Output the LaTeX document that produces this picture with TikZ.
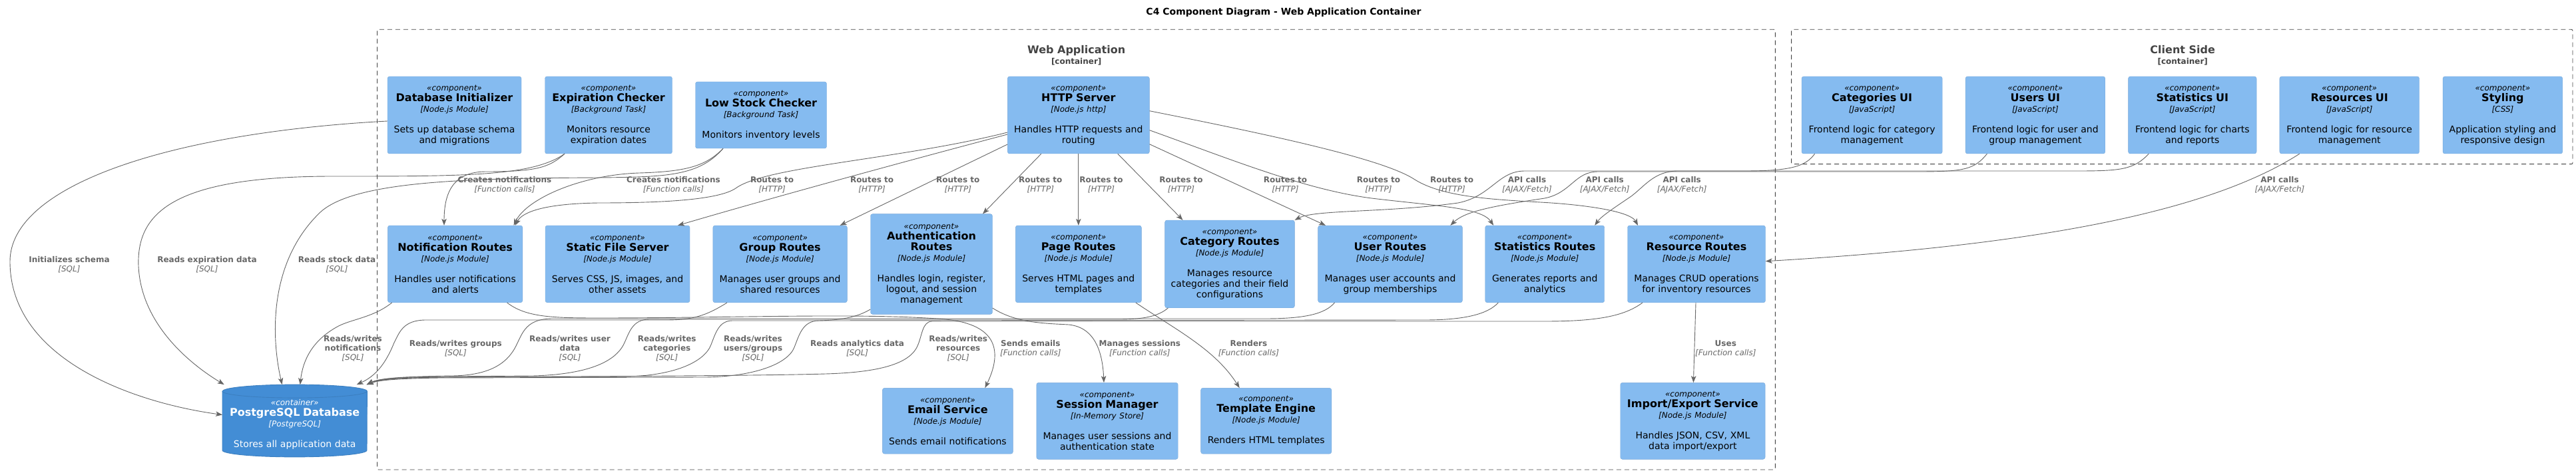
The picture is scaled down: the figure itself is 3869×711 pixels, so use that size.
\documentclass[tikz,border=0pt]{standalone}
\usepackage{fontspec}
\setmainfont{DejaVu Sans}
\usepackage{xcolor}
\usetikzlibrary{arrows.meta, positioning}

\definecolor{compfill}{HTML}{85BBF0}
\definecolor{compline}{HTML}{78A8D8}
\definecolor{dbfill}{HTML}{438DD5}
\definecolor{dbline}{HTML}{3C7FC0}
\definecolor{relgray}{HTML}{666666}
\definecolor{bndgray}{HTML}{444444}

\newcommand{\compbody}[3]{{\fontsize{12}{16}\selectfont\itshape «component»}\\{\fontsize{16}{16}\selectfont\bfseries #1}\\{\fontsize{12}{16}\selectfont\itshape [#2]}\\[15pt]#3}
\newcommand{\tech}[1]{{\mdseries\itshape [#1]}}

\tikzset{
  comp/.style={draw=compline, fill=compfill, rounded corners=3pt, align=center, inner sep=2pt, font=\fontsize{14}{16}\selectfont},
  rel/.style={draw=relgray, line width=0.9pt, -{Stealth[length=10pt,width=7.5pt,inset=2.5pt]}},
  rlbl/.style={text=relgray, align=center, font=\fontsize{12}{14}\selectfont\bfseries},
  bnd/.style={draw=bndgray, dash pattern=on 7pt off 5pt, line width=0.9pt, rounded corners=2pt},
  bndlbl/.style={text=bndgray, align=center, font=\fontsize{16}{16}\selectfont\bfseries},
  dbtxt/.style={text=white, align=center, text width=210pt, font=\fontsize{14}{16}\selectfont}
}

\begin{document}
\begin{tikzpicture}[x=1pt, y=-1pt]
      \useasboundingbox (0,0) rectangle (3869,711);

      \node[font=\fontsize{14}{16}\selectfont\bfseries] (title) at (1928,18.3) {C4 Component Diagram - Web Application Container};

      \draw[bnd] (566.5,44.3) rectangle (2666.4,706);
      \draw[bnd] (2690.6,44.3) rectangle (3864,246.7);
      \node[bndlbl] (webapp) at (1616.7,83) {Web Application\\{\fontsize{12}{14}\selectfont [container]}};
      \node[bndlbl] (client) at (3278.2,83) {Client Side\\{\fontsize{12}{14}\selectfont [container]}};

      \node[comp, text width=197pt, minimum height=116pt] (dbinit) at (682.5,173) {\compbody{Database Initializer}{Node.js Module}{Sets up database schema\\and migrations}};
      \node[comp, text width=187pt, minimum height=116pt] (expchk) at (914,173) {\compbody{Expiration Checker}{Background Task}{Monitors resource\\expiration dates}};
      \node[comp, text width=193pt, minimum height=100pt] (lowstk) at (1143,173) {\compbody{Low Stock Checker}{Background Task}{Monitors inventory levels}};
      \node[comp, text width=209pt, minimum height=116pt] (http) at (1619.8,173) {\compbody{HTTP Server}{Node.js http}{Handles HTTP requests and\\routing}};

      \node[comp, text width=207.2pt, minimum height=116pt] (catui) at (2811.6,173) {\compbody{Categories UI}{JavaScript}{Frontend logic for category\\management}};
      \node[comp, text width=205.7pt, minimum height=116pt] (usrui) at (3056.9,173) {\compbody{Users UI}{JavaScript}{Frontend logic for user and\\group management}};
      \node[comp, text width=188.5pt, minimum height=116pt] (statui) at (3292.8,173) {\compbody{Statistics UI}{JavaScript}{Frontend logic for charts\\and reports}};
      \node[comp, text width=205.6pt, minimum height=116pt] (resui) at (3528.7,173) {\compbody{Resources UI}{JavaScript}{Frontend logic for resource\\management}};
      \node[comp, text width=175.7pt, minimum height=116pt] (styl) at (3758.9,173) {\compbody{Styling}{CSS}{Application styling and\\responsive design}};

      \node[comp, text width=198.4pt, minimum height=115.7pt] (notif) at (683.6,396.9) {\compbody{Notification Routes}{Node.js Module}{Handles user notifications\\and alerts}};
      \node[comp, text width=213pt, minimum height=115.7pt] (static) at (927.5,396.9) {\compbody{Static File Server}{Node.js Module}{Serves CSS, JS, images, and\\other assets}};
      \node[comp, text width=197.5pt, minimum height=115.7pt] (group) at (1171.6,396.9) {\compbody{Group Routes}{Node.js Module}{Manages user groups and\\shared resources}};
      \node[comp, text width=179pt, minimum height=150.6pt] (auth) at (1399,397) {\compbody{Authentication\\Routes}{Node.js Module}{Handles login, register,\\logout, and session\\management}};
      \node[comp, text width=185pt, minimum height=115.7pt] (page) at (1619.8,396.9) {\compbody{Page Routes}{Node.js Module}{Serves HTML pages and\\templates}};
      \node[comp, text width=190.7pt, minimum height=131.7pt] (cat) at (1847,396.9) {\compbody{Category Routes}{Node.js Module}{Manages resource\\categories and their field\\configurations}};
      \node[comp, text width=212.7pt, minimum height=115.7pt] (user) at (2088,396.9) {\compbody{User Routes}{Node.js Module}{Manages user accounts and\\group memberships}};
      \node[comp, text width=175pt, minimum height=115.7pt] (stats) at (2320.2,396.9) {\compbody{Statistics Routes}{Node.js Module}{Generates reports and\\analytics}};
      \node[comp, text width=203pt, minimum height=115.7pt] (res) at (2548,396.9) {\compbody{Resource Routes}{Node.js Module}{Manages CRUD operations\\for inventory resources}};

      \node[comp, text width=192pt, minimum height=98.7pt] (email) at (1423.4,632.7) {\compbody{Email Service}{Node.js Module}{Sends email notifications}};
      \node[comp, text width=208.4pt, minimum height=115pt] (sess) at (1663,632.8) {\compbody{Session Manager}{In-Memory Store}{Manages user sessions and\\authentication state}};
      \node[comp, text width=192.2pt, minimum height=98.7pt] (tmpl) at (1901.7,632.7) {\compbody{Template Engine}{Node.js Module}{Renders HTML templates}};
      \node[comp, text width=213.3pt, minimum height=115pt] (impexp) at (2542.4,632.8) {\compbody{Import/Export Service}{Node.js Module}{Handles JSON, CSV, XML\\data import/export}};

      \node[minimum width=217pt, minimum height=108.4pt, inner sep=0pt] (db) at (442.7,632.5) {};
      \fill[dbfill, draw=dbline, line width=0.9pt] ([yshift=-10pt]db.north west) -- ([yshift=10pt]db.south west) arc[start angle=180, end angle=360, x radius=108.5pt, y radius=10pt] -- ([yshift=-10pt]db.north east) arc[start angle=0, end angle=180, x radius=108.5pt, y radius=10pt] -- cycle;
      \draw[dbline, line width=0.9pt] ([yshift=-10pt]db.north west) arc[start angle=180, end angle=360, x radius=108.5pt, y radius=10pt];
      \node[dbtxt] (dbtext) at (442.7,638) {{\fontsize{12}{16}\selectfont\itshape «container»}\\{\fontsize{16}{16}\selectfont\bfseries PostgreSQL Database}\\{\fontsize{12}{16}\selectfont\itshape [PostgreSQL]}\\[15pt]Stores all application data};

      \draw[rel] ([yshift=-9pt]dbinit.west) .. controls (250,200) and (15,280) .. (15,393) .. controls (15,540) and (200,605) .. ([yshift=9pt]db.west);
      \draw[rel] ([xshift=-66pt]expchk.south) .. controls (825,252) and (805,258) .. (730,258) .. controls (680,258) and (667,290) .. ([xshift=-16.6pt]notif.north);
      \draw[rel] ([xshift=-66pt]expchk.south) .. controls (800,265) and (700,265) .. (500,265) .. controls (260,265) and (205,320) .. (208,400) .. controls (212,490) and (290,550) .. ([xshift=-106pt]db.north);
      \draw[rel] ([xshift=-57pt]lowstk.south) .. controls (1060,250) and (1030,258) .. (960,260) .. controls (870,263) and (790,300) .. ([xshift=88pt]notif.north);
      \draw[rel] ([xshift=-57pt]lowstk.south) .. controls (1050,265) and (1000,266) .. (900,267) .. controls (700,268) and (530,272) .. (480,320) .. controls (398,400) and (410,520) .. ([xshift=-19pt]db.north);

      \draw[rel] ([yshift=-26pt]http.west) .. controls (1350,240) and (1150,250) .. (1105,283) .. controls (1080,300) and (1000,305) .. (900,305) .. controls (820,306) and (785,318) .. ([xshift=90pt]notif.north);
      \draw[rel] ([yshift=-29pt]http.west) .. controls (1350,245) and (1150,300) .. ([xshift=90.5pt]static.north);
      \draw[rel] ([yshift=-44pt]http.west) -- ([xshift=90pt]group.north);
      \draw[rel] ([xshift=-56pt]http.south) -- ([xshift=77pt]auth.north);
      \draw[rel] (http.south) -- (page.north);
      \draw[rel] ([xshift=59pt]http.south) -- ([xshift=-70.5pt]cat.north);
      \draw[rel] ([yshift=-43.7pt]http.east) -- ([xshift=-97pt]user.north);
      \draw[rel] ([yshift=-22.7pt]http.east) .. controls (1850,240) and (1960,285) .. (2060,298) .. controls (2160,310) and (2225,312) .. ([xshift=-77pt]stats.north);
      \draw[rel] ([yshift=6.3pt]http.east) .. controls (1920,205) and (2080,240) .. (2125,270) .. controls (2170,298) and (2250,300) .. (2330,305) .. controls (2400,310) and (2450,320) .. ([xshift=-88pt]res.north);

      \draw[rel] ([xshift=-86pt]catui.south) .. controls (2712,250) and (2690,257) .. (2620,257) -- (2290,257) .. controls (2250,257) and (2240,295) .. (2190,305) .. controls (2080,320) and (1975,315) .. (cat.north east);
      \draw[rel] ([xshift=-72.5pt]usrui.south) .. controls (2965,255) and (2950,258) .. (2880,258) -- (2400,258) .. controls (2365,258) and (2360,290) .. (2320,298) .. controls (2240,310) and (2200,318) .. ([xshift=90.4pt]user.north);
      \draw[rel] ([xshift=-65.6pt]statui.south) .. controls (3205,255) and (3185,257) .. (3120,257) -- (2520,257) .. controls (2485,257) and (2470,280) .. (2450,295) .. controls (2425,312) and (2405,325) .. ([xshift=75pt]stats.north);
      \draw[rel] ([xshift=-75pt]resui.south) .. controls (3300,330) and (3000,372) .. ([yshift=4.2pt]res.east);

      \draw[rel] ([xshift=-95pt]notif.south) .. controls (560,478) and (525,480) .. (505,492) .. controls (470,512) and (455,540) .. ([xshift=8pt]db.north);
      \draw[rel] ([xshift=-79.6pt]group.south) .. controls (1060,475) and (1040,481) .. (1000,481) -- (640,481) .. controls (605,481) and (600,500) .. (592,515) .. controls (580,545) and (565,565) .. ([xshift=93pt]db.north);
      \draw[rel] ([xshift=-83.5pt]user.south) .. controls (1990,472) and (1960,479) .. (1900,479) -- (830,479) .. controls (790,479) and (785,500) .. (775,520) .. controls (760,550) and (730,564) .. (680,565) .. controls (610,566) and (570,568) .. ([xshift=108pt]db.north);
      \draw[rel] ([xshift=-92.6pt]cat.south) .. controls (1740,475) and (1720,480) .. (1680,480) -- (975,480) .. controls (950,480) and (945,500) .. (938,515) .. controls (925,545) and (880,563) .. (800,565) -- (660,566) .. controls (600,567) and (570,569) .. ([xshift=108pt]db.north);
      \draw[rel] ([yshift=-68pt]auth.west) .. controls (1290,475) and (1270,481) .. (1230,482) -- (1100,482) .. controls (1080,482) and (1075,500) .. (1068,518) .. controls (1058,545) and (1010,565) .. (940,566) -- (660,567) .. controls (600,568) and (570,570) .. ([xshift=108pt]db.north);
      \draw[rel] ([xshift=-70pt]stats.south) .. controls (2235,472) and (2200,481) .. (2140,481) -- (1230,482) .. controls (1205,482) and (1200,505) .. (1193,522) .. controls (1183,548) and (1130,566) .. (1060,567) -- (660,568) .. controls (600,569) and (570,571) .. ([xshift=108pt]db.north);
      \draw[rel] ([xshift=-81pt]res.south) .. controls (2440,475) and (2400,483) .. (2320,483) -- (1400,483) .. controls (1385,483) and (1385,505) .. (1378,520) .. controls (1365,550) and (1310,560) .. (1240,562) .. controls (1100,566) and (700,566) .. (620,568) .. controls (590,569) and (570,571) .. ([xshift=108pt]db.north);

      \draw[rel] ([xshift=78pt]notif.south) .. controls (790,477) and (830,478) .. (900,478) .. controls (1100,478) and (1300,470) .. (1420,480) .. controls (1500,488) and (1505,530) .. ([xshift=56pt]email.north);
      \draw[rel] ([yshift=-66pt]auth.east) .. controls (1525,485) and (1565,486) .. (1605,488) .. controls (1645,492) and (1656,530) .. ([xshift=-5pt]sess.north);
      \draw[rel] ([xshift=86pt]page.south) .. controls (1765,495) and (1825,525) .. ([xshift=-40pt]tmpl.north);
      \draw[rel] ([xshift=-1pt]res.south) -- ([xshift=1pt]impexp.north);

      \node[rlbl] (lschema) at (104,398) {Initializes schema\\\tech{SQL}};
      \node[rlbl] (lexpire) at (311,398) {Reads expiration data\\\tech{SQL}};
      \node[rlbl] (lstock) at (506,398) {Reads stock data\\\tech{SQL}};
      \node[rlbl] (lnotifdb) at (530,524) {Reads/writes\\notifications\\\tech{SQL}};
      \node[rlbl] (lcreate1) at (758,278) {Creates notifications\\\tech{Function calls}};
      \node[rlbl] (lcreate2) at (1011.5,278) {Creates notifications\\\tech{Function calls}};
      \node[rlbl] (lroute1) at (1159.6,278) {Routes to\\\tech{HTTP}};
      \node[rlbl] (lroute2) at (1309.6,278) {Routes to\\\tech{HTTP}};
      \node[rlbl] (lroute3) at (1438.8,278) {Routes to\\\tech{HTTP}};
      \node[rlbl] (lroute4) at (1562.8,278) {Routes to\\\tech{HTTP}};
      \node[rlbl] (lroute5) at (1654,278) {Routes to\\\tech{HTTP}};
      \node[rlbl] (lroute6) at (1774,278) {Routes to\\\tech{HTTP}};
      \node[rlbl] (lroute7) at (1930.5,278) {Routes to\\\tech{HTTP}};
      \node[rlbl] (lroute8) at (2070.5,278) {Routes to\\\tech{HTTP}};
      \node[rlbl] (lroute9) at (2180.6,278) {Routes to\\\tech{HTTP}};
      \node[rlbl] (lapi1) at (2293.5,278) {API calls\\\tech{AJAX/Fetch}};
      \node[rlbl] (lapi2) at (2410.2,278) {API calls\\\tech{AJAX/Fetch}};
      \node[rlbl] (lapi3) at (2526.2,278) {API calls\\\tech{AJAX/Fetch}};
      \node[rlbl] (lapi4) at (3424,278) {API calls\\\tech{AJAX/Fetch}};
      \node[rlbl] (lgroups) at (684.3,524) {Reads/writes groups\\\tech{SQL}};
      \node[rlbl] (luserdb) at (856,524) {Reads/writes user\\data\\\tech{SQL}};
      \node[rlbl] (lcatdb) at (1001.7,524) {Reads/writes\\categories\\\tech{SQL}};
      \node[rlbl] (lauthdb) at (1131,524) {Reads/writes\\users/groups\\\tech{SQL}};
      \node[rlbl] (lstatsdb) at (1287.6,524) {Reads analytics data\\\tech{SQL}};
      \node[rlbl] (lresdb) at (1439.2,524) {Reads/writes\\resources\\\tech{SQL}};
      \node[rlbl] (lemail) at (1547.8,524) {Sends emails\\\tech{Function calls}};
      \node[rlbl] (lsess) at (1711.8,524) {Manages sessions\\\tech{Function calls}};
      \node[rlbl] (lrender) at (1875.4,524) {Renders\\\tech{Function calls}};
      \node[rlbl] (luses) at (2591.8,524) {Uses\\\tech{Function calls}};
    \end{tikzpicture}
\end{document}
